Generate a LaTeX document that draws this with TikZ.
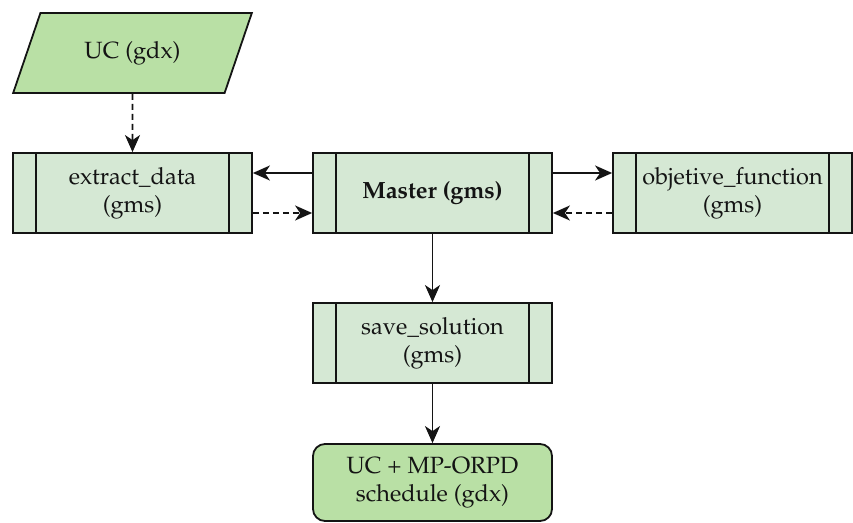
\documentclass[tikz,border=0pt]{standalone}
\usepackage[T1]{fontenc}
\usepackage{mathpazo}
\usetikzlibrary{shapes.geometric,arrows.meta}
\definecolor{iofill}{HTML}{B9E0A5}
\definecolor{procfill}{HTML}{D5E8D4}
\definecolor{edge}{HTML}{141414}
\begin{document}
\begin{tikzpicture}[x=1pt,y=-1pt,
  every node/.style={text=edge, font=\fontsize{23.5}{28}\selectfont, align=center, inner sep=0pt},
  procbox/.style={draw=edge, fill=procfill, line width=1.8pt,
    minimum width=239pt, minimum height=80pt,
    path picture={
      \draw[edge, line width=1.8pt] ([xshift=23pt]path picture bounding box.north west) -- ([xshift=23pt]path picture bounding box.south west);
      \draw[edge, line width=1.8pt] ([xshift=-23pt]path picture bounding box.north east) -- ([xshift=-23pt]path picture bounding box.south east);
    }},
  iobox/.style={trapezium, trapezium stretches=true, trapezium left angle=59, trapezium right angle=121,
    draw=edge, fill=iofill, line width=1.8pt, minimum width=239pt, minimum height=80pt},
  termbox/.style={draw=edge, fill=iofill, line width=1.8pt, rounded corners=12pt,
    minimum width=239pt, minimum height=77pt},
  flow/.style={draw=edge, line width=1.8pt, -{Stealth[length=17pt,width=15pt,inset=5pt]}},
  dflow/.style={flow, dash pattern=on 6pt off 4pt}
]
\useasboundingbox (0,0) rectangle (853,522);

\node[iobox]   (uc)      at (132.5,53)  {UC (gdx)};
\node[procbox] (extract) at (132.5,193) {extract\_data\\(gms)};
\node[procbox] (master)  at (432.5,193) {\textbf{Master (gms)}};
\node[procbox] (obj)     at (732.5,193) {objetive\_function\\(gms)};
\node[procbox] (save)    at (432.5,343) {save\_solution\\(gms)};
\node[termbox] (out)     at (432.5,482.5) {UC + MP-ORPD\\schedule (gdx)};

\draw[dflow] (uc.south) -- (extract.north);
\draw[flow]  ([yshift=20pt]master.west) -- ([yshift=20pt]extract.east);
\draw[dflow] ([yshift=-20pt]extract.east) -- ([yshift=-20pt]master.west);
\draw[flow]  ([yshift=20pt]master.east) -- ([yshift=20pt]obj.west);
\draw[dflow] ([yshift=-20pt]obj.west) -- ([yshift=-20pt]master.east);
\draw[flow]  (master.south) -- (save.north);
\draw[flow]  (save.south) -- (out.north);
\end{tikzpicture}
\end{document}
